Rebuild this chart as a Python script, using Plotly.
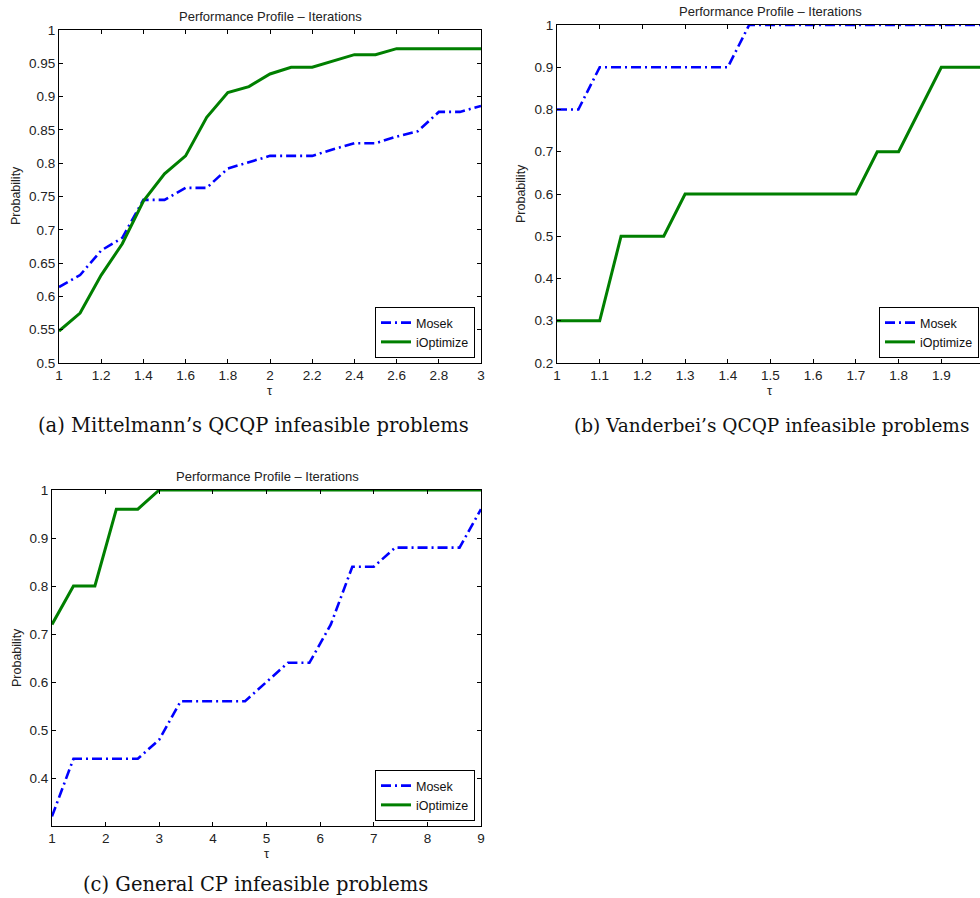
import plotly.graph_objects as go

# ---------------- data ----------------
tau_a = [1.0, 1.1, 1.2, 1.3, 1.4, 1.5, 1.6, 1.7, 1.8, 1.9, 2.0,
         2.1, 2.2, 2.3, 2.4, 2.5, 2.6, 2.7, 2.8, 2.9, 3.0]
mosek_a = [0.614, 0.632, 0.669, 0.688, 0.745, 0.745, 0.763, 0.763, 0.792, 0.802, 0.811,
           0.811, 0.811, 0.821, 0.830, 0.830, 0.840, 0.848, 0.877, 0.877, 0.886]
iopt_a = [0.548, 0.575, 0.632, 0.679, 0.743, 0.784, 0.811, 0.869, 0.906, 0.915, 0.934,
          0.944, 0.944, 0.953, 0.963, 0.963, 0.972, 0.972, 0.972, 0.972, 0.972]

tau_b = [1.0, 1.05, 1.1, 1.15, 1.2, 1.25, 1.3, 1.35, 1.4, 1.45, 1.5,
         1.55, 1.6, 1.65, 1.7, 1.75, 1.8, 1.85, 1.9, 1.95, 2.0]
mosek_b = [0.8, 0.8, 0.9, 0.9, 0.9, 0.9, 0.9, 0.9, 0.9, 1.0, 1.0,
           1.0, 1.0, 1.0, 1.0, 1.0, 1.0, 1.0, 1.0, 1.0, 1.0]
iopt_b = [0.3, 0.3, 0.3, 0.5, 0.5, 0.5, 0.6, 0.6, 0.6, 0.6, 0.6,
          0.6, 0.6, 0.6, 0.6, 0.7, 0.7, 0.8, 0.9, 0.9, 0.9]

tau_c = [1.0, 1.4, 1.8, 2.2, 2.6, 3.0, 3.4, 3.8, 4.2, 4.6, 5.0,
         5.4, 5.8, 6.2, 6.6, 7.0, 7.4, 7.8, 8.2, 8.6, 9.0]
mosek_c = [0.32, 0.44, 0.44, 0.44, 0.44, 0.48, 0.56, 0.56, 0.56, 0.56, 0.60,
           0.64, 0.64, 0.72, 0.84, 0.84, 0.88, 0.88, 0.88, 0.88, 0.96]
iopt_c = [0.72, 0.80, 0.80, 0.96, 0.96, 1.0, 1.0, 1.0, 1.0, 1.0, 1.0,
          1.0, 1.0, 1.0, 1.0, 1.0, 1.0, 1.0, 1.0, 1.0, 1.0]

xticks_a = [1, 1.2, 1.4, 1.6, 1.8, 2, 2.2, 2.4, 2.6, 2.8, 3]
yticks_a = [0.5, 0.55, 0.6, 0.65, 0.7, 0.75, 0.8, 0.85, 0.9, 0.95, 1]
xticks_b = [1, 1.1, 1.2, 1.3, 1.4, 1.5, 1.6, 1.7, 1.8, 1.9, 2]
yticks_b = [0.2, 0.3, 0.4, 0.5, 0.6, 0.7, 0.8, 0.9, 1]
xticks_c = [1, 2, 3, 4, 5, 6, 7, 8, 9]
yticks_c = [0.4, 0.5, 0.6, 0.7, 0.8, 0.9, 1]

series_names = ["Mosek", "iOptimize"]
plot_title = "Performance Profile \u2013 Iterations"
captions = ["(a) Mittelmann\u2019s QCQP infeasible problems",
            "(b) Vanderbei\u2019s QCQP infeasible problems",
            "(c) General CP infeasible problems"]

# ---------------- layout helpers ----------------
W, H = 980, 898
def px(x):
    return x / W
def py(y):
    return 1 - y / H

BLUE = "#0000ff"
GREEN = "#007f00"
FONT = "Liberation Sans, Arial, sans-serif"

fig = go.Figure()

panels = [
    dict(x=tau_a, m=mosek_a, i=iopt_a, xa="x", ya="y", leg="legend"),
    dict(x=tau_b, m=mosek_b, i=iopt_b, xa="x2", ya="y2", leg="legend2"),
    dict(x=tau_c, m=mosek_c, i=iopt_c, xa="x3", ya="y3", leg="legend3"),
]
for p in panels:
    fig.add_trace(go.Scatter(x=p["x"], y=p["m"], mode="lines", name=series_names[0],
                             xaxis=p["xa"], yaxis=p["ya"], legend=p["leg"],
                             line=dict(color=BLUE, width=2.6, dash="10px,4px,2px,4px")))
    fig.add_trace(go.Scatter(x=p["x"], y=p["i"], mode="lines", name=series_names[1],
                             xaxis=p["xa"], yaxis=p["ya"], legend=p["leg"],
                             line=dict(color=GREEN, width=3)))

def axis(domain, rng, tickvals, anchor, mirror="allticks"):
    return dict(domain=domain, range=rng, tickvals=tickvals, anchor=anchor,
                showline=True, linecolor="black", linewidth=1, mirror=mirror,
                ticks="inside", ticklen=4, tickcolor="black", tickwidth=1,
                showgrid=False, zeroline=False, automargin=False,
                tickfont=dict(family=FONT, size=13.5, color="#222"))

# panel pixel boxes (left, top, right, bottom)
box_a = (59, 30, 481, 363)
box_b = (557, 25, 980, 363)
box_c = (52, 490, 481, 826)
xr_b = [1, 1 + (box_b[2] - box_b[0]) / 427.0]

fig.update_layout(
    xaxis=axis([px(box_a[0]), px(box_a[2])], [1, 3], xticks_a, "y"),
    yaxis=axis([py(box_a[3]), py(box_a[1])], [0.5, 1], yticks_a, "x"),
    xaxis2=axis([px(box_b[0]), px(box_b[2])], xr_b, xticks_b, "y2"),
    yaxis2=axis([py(box_b[3]), py(box_b[1])], [0.2, 1], yticks_b, "x2", mirror=False),
    xaxis3=axis([px(box_c[0]), px(box_c[2])], [1, 9], xticks_c, "y3"),
    yaxis3=axis([py(box_c[3]), py(box_c[1])], [0.3, 1], yticks_c, "x3"),
)

def legend(right, bottom):
    return dict(x=px(right), y=py(bottom), xanchor="right", yanchor="bottom",
                bgcolor="white", bordercolor="black", borderwidth=1,
                font=dict(family=FONT, size=12.5, color="#111"), traceorder="normal")

fig.update_layout(legend=legend(475, 358), legend2=legend(979, 358), legend3=legend(475, 821))

ann = []
def text(x, y, s, size=13, angle=0, family=FONT, color="#222"):
    ann.append(dict(x=px(x), y=py(y), xref="paper", yref="paper", text=s, showarrow=False,
                    xanchor="center", yanchor="middle", textangle=angle,
                    font=dict(family=family, size=size, color=color)))

# titles
text(270, 17, plot_title)
text(770, 12, plot_title)
text(267, 476, plot_title)
# y labels
text(16, 196, "Probability", size=12.5, angle=-90)
text(521, 194, "Probability", size=12.5, angle=-90)
text(17, 658, "Probability", size=12.5, angle=-90)
# x labels
text(270, 390, "\u03c4")
text(770, 390, "\u03c4")
text(267, 853, "\u03c4")
# captions
SERIF = "DejaVu Serif, serif"
text(253, 425, captions[0], size=19.5, family=SERIF, color="#111")
text(771, 425, captions[1], size=18.5, family=SERIF, color="#111")
text(255, 884, captions[2], size=19.5, family=SERIF, color="#111")

fig.update_layout(annotations=ann, width=W, height=H,
                  margin=dict(l=0, r=0, t=0, b=0, pad=0, autoexpand=False),
                  paper_bgcolor="white", plot_bgcolor="white", showlegend=True)

fig.write_html("out.html", config={"displayModeBar": False},
               post_script="document.body.style.margin='0px';document.body.style.overflow='hidden';")
